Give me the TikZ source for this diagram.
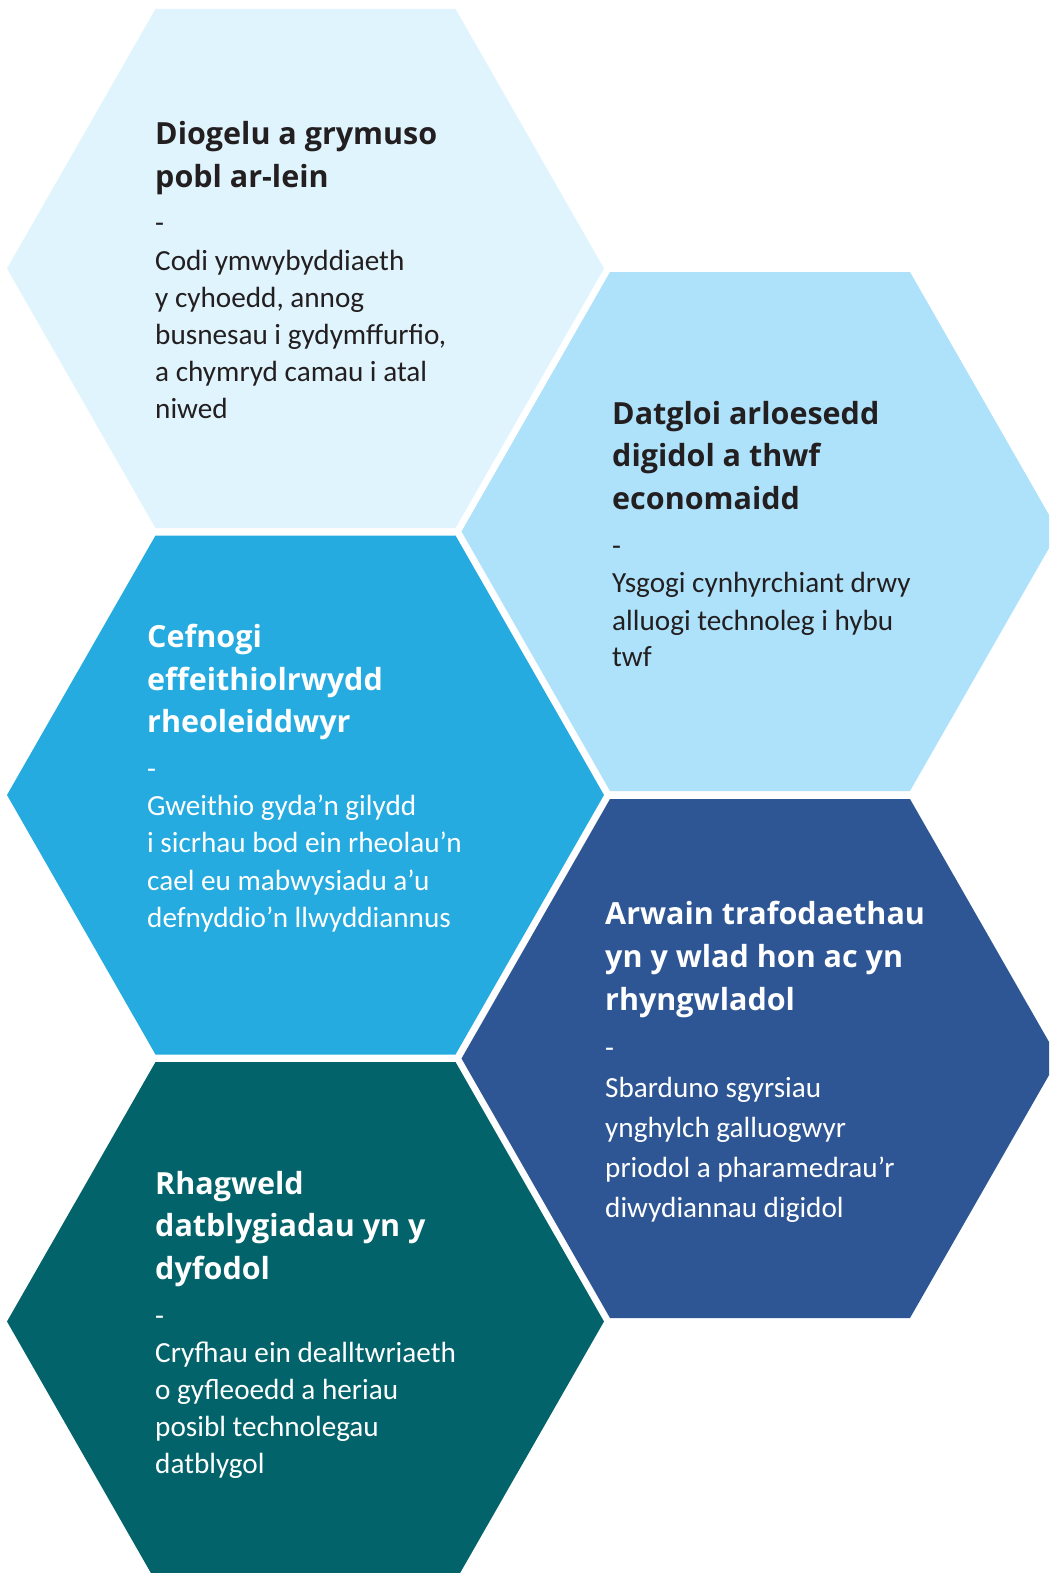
\documentclass[tikz,border=0pt]{standalone}
\usepackage{fontspec}
\newfontfamily\titlefont{Open Sans}
\newfontfamily\bodyfont{Carlito}
\definecolor{hexA}{HTML}{E0F4FD}
\definecolor{hexB}{HTML}{AEE2FB}
\definecolor{hexC}{HTML}{25ABE0}
\definecolor{hexD}{HTML}{2E5594}
\definecolor{hexE}{HTML}{02636A}
\definecolor{txtdark}{HTML}{231F20}
\tikzset{
  ttl/.style={anchor=base west, inner sep=0pt, font=\titlefont\bfseries\fontsize{30.5}{36}\selectfont},
  bdy/.style={anchor=base west, inner sep=0pt, font=\bodyfont\fontsize{29.2}{35}\selectfont},
  dk/.style={text=txtdark},
  wt/.style={text=white}
}
\newcommand\hexat[3]{% center x, center y, colour
  \fill[#3] (#1-298.5,#2) -- (#1-150,#2-259.5) -- (#1+150,#2-259.5) -- (#1+298.5,#2) -- (#1+150,#2+259.5) -- (#1-150,#2+259.5) -- cycle;}
\begin{document}
\begin{tikzpicture}[x=1pt,y=-1pt]
\path[use as bounding box] (0,0) rectangle (1049,1573);
\clip (0,0) rectangle (1049,1573);
\fill[white] (0,0) rectangle (1049,1573);
% hexagons
\hexat{305.5}{268.5}{hexA}
\hexat{760}{531.5}{hexB}
\hexat{305.5}{795}{hexC}
\hexat{760}{1058.5}{hexD}
\hexat{305.5}{1321.5}{hexE}
% H1
\node[ttl,dk] (a1) at (155,145) {Diogelu a grymuso};
\node[ttl,dk] (a2) at (155,188) {pobl ar-lein};
\node[bdy,dk] (a3) at (155,233) {-};
\node[bdy,dk] (a4) at (155,270) {Codi ymwybyddiaeth};
\node[bdy,dk] (a5) at (155,307) {y cyhoedd, annog};
\node[bdy,dk] (a6) at (155,344) {busnesau i gydymffurfio,};
\node[bdy,dk] (a7) at (155,381) {a chymryd camau i atal};
\node[bdy,dk] (a8) at (155,418) {niwed};
% H2
\node[ttl,dk] (b1) at (612,424) {Datgloi arloesedd};
\node[ttl,dk] (b2) at (612,466) {digidol a thwf};
\node[ttl,dk] (b3) at (612,509) {economaidd};
\node[bdy,dk] (b4) at (612,555) {-};
\node[bdy,dk] (b5) at (612,592) {Ysgogi cynhyrchiant drwy};
\node[bdy,dk] (b6) at (612,630) {alluogi technoleg i hybu};
\node[bdy,dk] (b7) at (612,666) {twf};
% H3
\node[ttl,wt] (c1) at (147,647) {Cefnogi};
\node[ttl,wt] (c2) at (147,690) {effeithiolrwydd};
\node[ttl,wt] (c3) at (147,732) {rheoleiddwyr};
\node[bdy,wt] (c4) at (147,778) {-};
\node[bdy,wt] (c5) at (147,815) {Gweithio gyda’n gilydd};
\node[bdy,wt] (c6) at (147,852) {i sicrhau bod ein rheolau’n};
\node[bdy,wt] (c7) at (147,890) {cael eu mabwysiadu a’u};
\node[bdy,wt] (c8) at (147,927) {defnyddio’n llwyddiannus};
% H4
\node[ttl,wt] (d1) at (605,924) {Arwain trafodaethau};
\node[ttl,wt] (d2) at (605,967) {yn y wlad hon ac yn};
\node[ttl,wt] (d3) at (605,1010) {rhyngwladol};
\node[bdy,wt] (d4) at (605,1057) {-};
\node[bdy,wt] (d5) at (605,1097) {Sbarduno sgyrsiau};
\node[bdy,wt] (d6) at (605,1137) {ynghylch galluogwyr};
\node[bdy,wt] (d7) at (605,1177) {priodol a pharamedrau’r};
\node[bdy,wt] (d8) at (605,1217) {diwydiannau digidol};
% H5
\node[ttl,wt] (e1) at (155,1194) {Rhagweld};
\node[ttl,wt] (e2) at (155,1236) {datblygiadau yn y};
\node[ttl,wt] (e3) at (155,1279) {dyfodol};
\node[bdy,wt] (e4) at (155,1325) {-};
\node[bdy,wt] (e5) at (155,1362) {Cryfhau ein dealltwriaeth};
\node[bdy,wt] (e6) at (155,1399) {o gyfleoedd a heriau};
\node[bdy,wt] (e7) at (155,1436) {posibl technolegau};
\node[bdy,wt] (e8) at (155,1473) {datblygol};
\end{tikzpicture}
\end{document}
